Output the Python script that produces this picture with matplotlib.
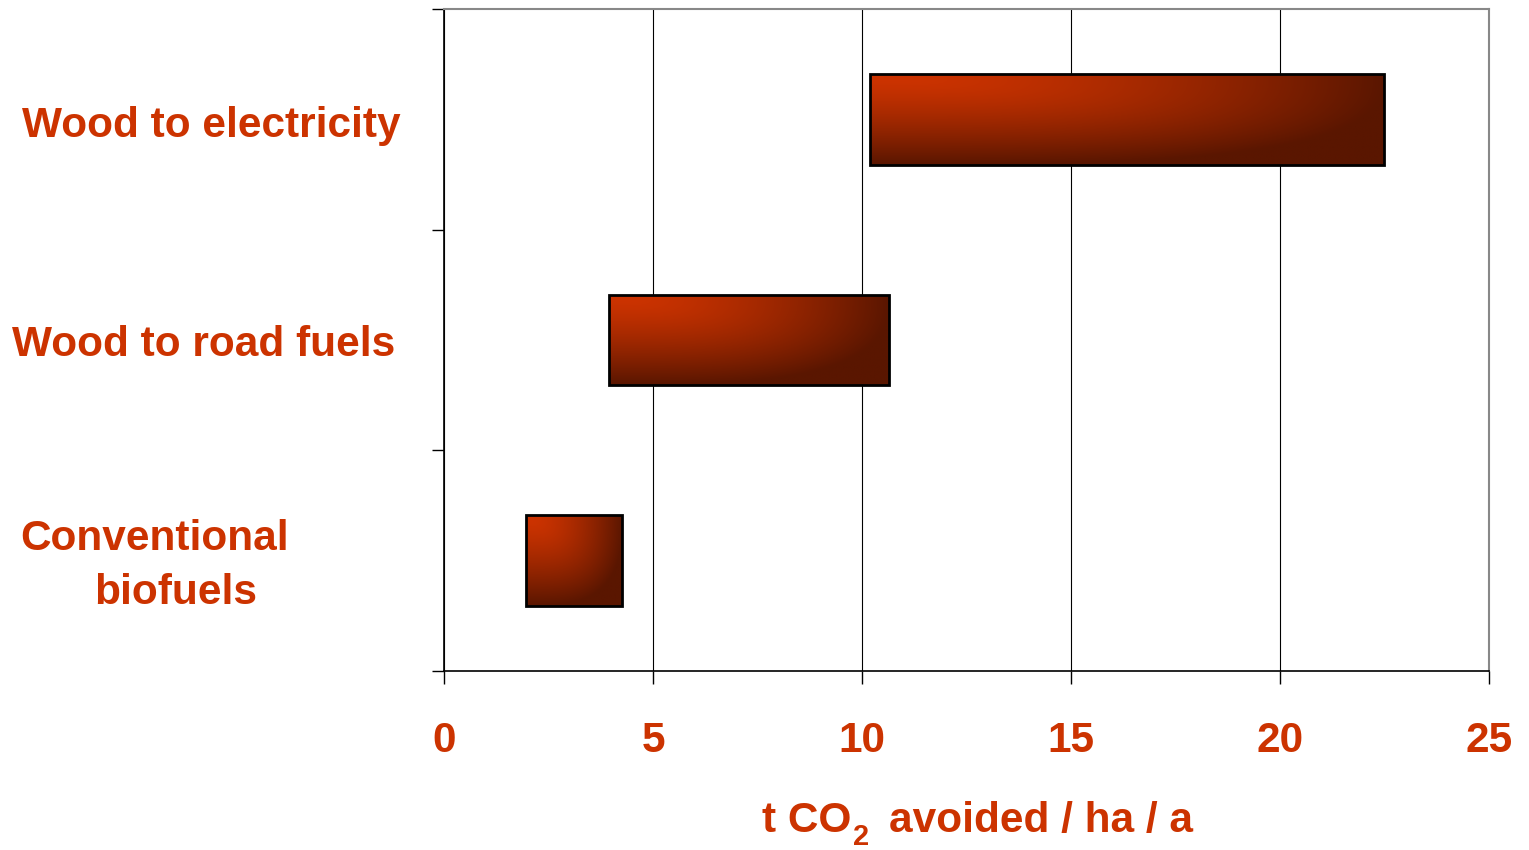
import numpy as np
import matplotlib
matplotlib.use("Agg")
import matplotlib.pyplot as plt
from matplotlib.colors import to_rgb
from matplotlib.transforms import blended_transform_factory

plt.rcParams['font.family'] = ['Liberation Sans', 'DejaVu Sans']

categories = ["Wood to electricity", "Wood to road fuels", "Conventional\nbiofuels"]
range_low = [10.2, 3.95, 1.95]
range_high = [22.5, 10.65, 4.25]
x_ticks = [0, 5, 10, 15, 20, 25]
x_label_parts = ["t CO", "2", "avoided / ha / a"]

TEXT = "#cc3300"
LIGHT = np.array(to_rgb("#cc3300"))
DARK = np.array(to_rgb("#5a1600"))
FS = 30.5
W, H = 1529, 850

fig = plt.figure(figsize=(15.29, 8.5), dpi=100)
ax = fig.add_axes([0.2904, 0.2106, 0.6834, 0.7788])

ypos = [2.5, 1.5, 0.5]
h = 0.41
widths = [b - a for a, b in zip(range_low, range_high)]
bars = ax.barh(ypos, widths, left=range_low, height=h, facecolor='none',
               edgecolor='black', linewidth=2, zorder=4)

# gradient fill
ny, nx = 100, 200
u = np.linspace(0, 1, nx)[None, :]
v = np.linspace(0, 1, ny)[:, None]
tu = np.clip((u - 0.03) / 0.97, 0, 1) ** 1.6
tv = np.clip((v - 0.05) / 0.95, 0, 1) ** 1.3
t = np.clip(np.sqrt(tu ** 2 + tv ** 2), 0, 1)
img = LIGHT[None, None, :] * (1 - t[..., None]) + DARK[None, None, :] * t[..., None]
for bar in bars:
    x0, y0 = bar.get_x(), bar.get_y()
    w, hh = bar.get_width(), bar.get_height()
    im = ax.imshow(img, extent=[x0, x0 + w, y0, y0 + hh], origin='upper',
                   aspect='auto', zorder=3, interpolation='bilinear')
    im.set_clip_path(bar)

ax.set_xlim(0, 25)
ax.set_ylim(0, 3)
ax.set_aspect('auto')
ax.set_xticks(x_ticks)
ax.set_xticklabels([str(v) for v in x_ticks], fontsize=FS, fontweight='bold', color=TEXT)
ax.set_yticks([0, 1, 2, 3])
ax.set_yticklabels([])
ax.tick_params(axis='x', direction='out', length=9, width=1, pad=27, colors='black', labelcolor=TEXT)
ax.tick_params(axis='y', direction='out', length=9, width=1, colors='black')
ax.xaxis.grid(True, color='black', linewidth=0.8)
ax.set_axisbelow(True)
for s in ['left', 'bottom']:
    ax.spines[s].set_color('black')
    ax.spines[s].set_linewidth(1.2)
for s in ['top', 'right']:
    ax.spines[s].set_color('#888888')
    ax.spines[s].set_linewidth(1.5)

# x label built from pieces (subscript 2 set lower, as in the original)
fig.text(762 / W, 1 - 832 / H, x_label_parts[0], ha='left', va='baseline',
         fontsize=FS, fontweight='bold', color=TEXT)
fig.text(853 / W, 1 - 845 / H, x_label_parts[1], ha='left', va='baseline',
         fontsize=21, fontweight='bold', color=TEXT)
fig.text(889 / W, 1 - 832 / H, x_label_parts[2], ha='left', va='baseline',
         fontsize=FS, fontweight='bold', color=TEXT)

# category labels
tr = blended_transform_factory(fig.transFigure, ax.transData)
label_x = [211 / W, 204 / W]
label_dy = [-0.032, -0.023]
for i in range(2):
    ax.text(label_x[i], ypos[i] + label_dy[i], categories[i], transform=tr,
            ha='center', va='center', fontsize=FS, fontweight='bold', color=TEXT)
line1, line2 = categories[2].split("\n")
ax.text(155 / W, ypos[2] + 0.10, line1, transform=tr, ha='center', va='center',
        fontsize=FS, fontweight='bold', color=TEXT)
ax.text(176 / W, ypos[2] - 0.145, line2, transform=tr, ha='center', va='center',
        fontsize=FS, fontweight='bold', color=TEXT)

fig.savefig("out.png", dpi=100)
